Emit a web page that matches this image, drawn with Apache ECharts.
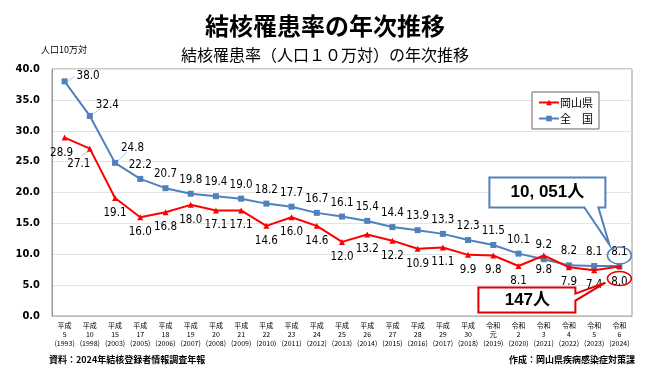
<!DOCTYPE html>
<html><head><meta charset="utf-8">
<script src="https://cdn.jsdelivr.net/npm/echarts@6/dist/echarts.min.js"></script>
<style>html,body{margin:0;padding:0;background:#fff}#c{width:650px;height:365px}</style>
</head><body><div id="c"></div>
<script>
const eras = ['平成','平成','平成','平成','平成','平成','平成','平成','平成','平成','平成','平成','平成','平成','平成','平成','平成','令和','令和','令和','令和','令和','令和'];
const eraYears = ['5','10','15','17','18','19','20','21','22','23','24','25','26','27','28','29','30','元','2','3','4','5','6'];
const westernYears = ['1993','1998','2003','2005','2006','2007','2008','2009','2010','2011','2012','2013','2014','2015','2016','2017','2018','2019','2020','2021','2022','2023','2024'];
const okayama = [28.9,27.1,19.1,16.0,16.8,18.0,17.1,17.1,14.6,16.0,14.6,12.0,13.2,12.2,10.9,11.1,9.9,9.8,8.1,9.8,7.9,7.4,8.0];
const national = [38.0,32.4,24.8,22.2,20.7,19.8,19.4,19.0,18.2,17.7,16.7,16.1,15.4,14.4,13.9,13.3,12.3,11.5,10.1,9.2,8.2,8.1,8.1];
const yMin = 0, yMax = 40, yStep = 5;
const nationalCount = '10, 051人';
const okayamaCount = '147人';

const categories = eras.map((e,i)=> e + '\n' + eraYears[i] + '\n(' + westernYears[i] + ')');
const numFont = '"DejaVu Sans Condensed","Liberation Sans Narrow","Liberation Sans",sans-serif';
const jpFont = '"Noto Sans CJK JP",sans-serif';
const RED = '#ff0000', BLUE = '#4f81bd';

const blueSpecial = {
  0: {position:'right', distance:9, offset:[0,-5]},
  1: {position:'right', distance:3, offset:[0,-11]},
  2: {position:'right', distance:3, offset:[0,-15]}
};
const redSpecial = {
  0: {offset:[-3,0]},
  1: {offset:[-11,0]}
};
const natData = national.map((v,i)=> blueSpecial[i] ? {value:v, label:blueSpecial[i]} : v);
const okaData = okayama.map((v,i)=> redSpecial[i] ? {value:v, label:redSpecial[i]} : v);

const labelStyle = {fontFamily:numFont, fontSize:11.5, fontWeight:'normal', color:'#000'};
const chart = echarts.init(document.getElementById('c'), null, {renderer:'canvas'});
chart.setOption({
  animation:false,
  backgroundColor:'#fff',
  title:[
    {text:'結核罹患率の年次推移', left:'center', top:9, textStyle:{fontFamily:jpFont, fontSize:24, fontWeight:'bold', color:'#000'}},
    {text:'結核罹患率（人口１０万対）の年次推移', left:'center', top:42, textStyle:{fontFamily:jpFont, fontSize:16, fontWeight:'normal', color:'#000'}},
    {text:'人口10万対', left:36, top:40, textStyle:{fontFamily:jpFont, fontSize:9, fontWeight:'normal', color:'#000'}},
    {text:'資料：2024年結核登録者情報調査年報', left:44, top:350, textStyle:{fontFamily:jpFont, fontSize:9, fontWeight:'bold', color:'#000'}},
    {text:'作成：岡山県疾病感染症対策課', right:10, top:350, textStyle:{fontFamily:jpFont, fontSize:9, fontWeight:'bold', color:'#000'}}
  ],
  legend:{
    orient:'vertical', left:532, top:92, padding:[5,6], itemGap:5,
    itemWidth:20, itemHeight:7, borderColor:'#666', borderWidth:1, backgroundColor:'#fff',
    textStyle:{fontFamily:jpFont, fontSize:11, color:'#000', padding:[0,0,0,-4]},
    data:['岡山県','全　国']
  },
  grid:{left:52, right:18, top:69, bottom:49, show:true, borderColor:'#999', borderWidth:1},
  xAxis:{
    type:'category', data:categories, boundaryGap:true,
    axisLine:{show:true, lineStyle:{color:'#bbb'}}, axisTick:{show:false},
    axisLabel:{interval:0, fontFamily:jpFont, fontSize:7, lineHeight:9, color:'#000', margin:5}
  },
  yAxis:{
    type:'value', min:yMin, max:yMax, interval:yStep,
    axisLine:{show:true, lineStyle:{color:'#999'}}, axisTick:{show:false},
    axisLabel:{formatter:v=>v.toFixed(1), fontFamily:numFont, fontSize:11, fontWeight:'bold', color:'#000', margin:12},
    splitLine:{lineStyle:{color:'#e4e4e4'}}
  },
  series:[
    {name:'岡山県', type:'line', data:okaData, color:RED, symbol:'triangle', symbolSize:6,
     lineStyle:{width:2, color:RED}, itemStyle:{color:RED},
     label:Object.assign({show:true, position:'bottom', distance:6, formatter:p=>Number(p.value).toFixed(1)}, labelStyle), z:3},
    {name:'全　国', type:'line', data:natData, color:BLUE, symbol:'rect', symbolSize:6,
     lineStyle:{width:2, color:BLUE}, itemStyle:{color:BLUE},
     label:Object.assign({show:true, position:'top', distance:5, formatter:p=>Number(p.value).toFixed(1)}, labelStyle), z:2}
  ]
});

// leader lines for the first displaced labels and callouts, anchored to data points
const px = (i, v) => chart.convertToPixel({gridIndex:0}, [i, v]);
const lead = [];
const leadStyle = {stroke:'#b8c8dc', lineWidth:1};
let p = px(0, national[0]); lead.push({type:'line', shape:{x1:p[0]+3, y1:p[1], x2:p[0]+10, y2:p[1]-5}, style:leadStyle, z:1});
p = px(1, national[1]); lead.push({type:'line', shape:{x1:p[0]+3, y1:p[1]-2, x2:p[0]+12, y2:p[1]-8}, style:leadStyle, z:1});
p = px(2, national[2]); lead.push({type:'line', shape:{x1:p[0]+3, y1:p[1]-2, x2:p[0]+12, y2:p[1]-11}, style:leadStyle, z:1});
p = px(1, okayama[1]); lead.push({type:'line', shape:{x1:p[0]-2, y1:p[1]+3, x2:p[0]-8, y2:p[1]+7}, style:leadStyle, z:1});

const last = national.length - 1;
const pN = px(last, national[last]);
const pO = px(last, okayama[last]);
const bx = pN[0], by = pN[1]-10.5;   // blue label centre
const rx = pO[0], ry = pO[1]+12;     // red label centre
chart.setOption({
  graphic: lead.concat([
    {type:'ellipse', shape:{cx:bx, cy:by, rx:12, ry:8.5}, style:{fill:'none', stroke:BLUE, lineWidth:1.5}, z:10},
    {type:'ellipse', shape:{cx:rx, cy:ry, rx:12, ry:7}, style:{fill:'none', stroke:'#e00000', lineWidth:1.5}, z:10},
    {type:'polygon', shape:{points:[[bx-130,by-78],[bx-14,by-78],[bx-14,by-48],[bx-21,by-48],[bx-10,by-11],[bx-35,by-48],[bx-130,by-48]]},
     style:{fill:'#fff', stroke:BLUE, lineWidth:2}, z:10},
    {type:'text', x:bx-72, y:by-63, style:{text:nationalCount, font:'bold 17px "Liberation Sans","Noto Sans CJK JP",sans-serif', fill:'#000', align:'center', verticalAlign:'middle'}, z:11},
    {type:'polygon', shape:{points:[[rx-141,ry+9],[rx-44,ry+9],[rx-44,ry+15],[rx-14,ry+4],[rx-44,ry+22],[rx-44,ry+34],[rx-141,ry+34]]},
     style:{fill:'#fff', stroke:'#e00000', lineWidth:2}, z:10},
    {type:'text', x:rx-92, y:ry+22, style:{text:okayamaCount, font:'bold 17px "Liberation Sans","Noto Sans CJK JP",sans-serif', fill:'#000', align:'center', verticalAlign:'middle'}, z:11}
  ])
});
</script></body></html>
